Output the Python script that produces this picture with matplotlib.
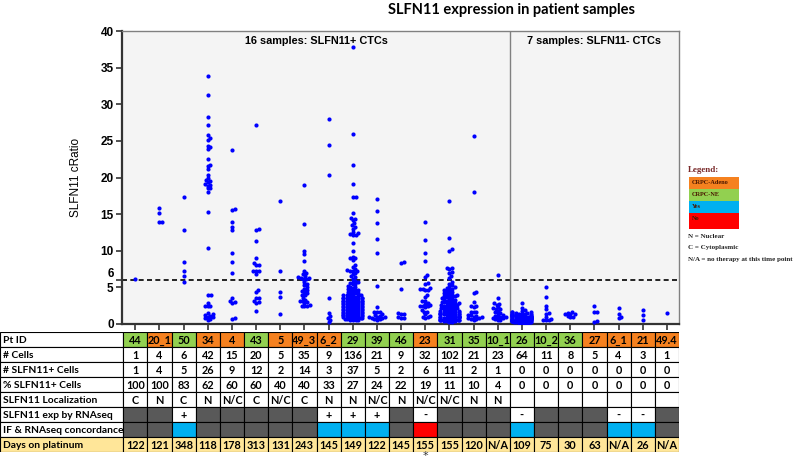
import numpy as np
import matplotlib.pyplot as plt
from matplotlib.patches import Rectangle

# ---- data ----
pt_ids = ["44", "20_1", "50", "34", "4", "43", "5", "49_3", "6_2", "29", "39", "46",
          "23", "31", "35", "10_1", "26", "10_2", "36", "27", "6_1", "21", "49.4"]
pt_type = ["NE", "Adeno", "NE", "Adeno", "Adeno", "NE", "Adeno", "Adeno", "Adeno", "NE", "NE", "NE",
           "Adeno", "NE", "NE", "NE", "NE", "NE", "NE", "Adeno", "Adeno", "Adeno", "Adeno"]
n_cells = [1, 4, 6, 42, 15, 20, 5, 35, 9, 136, 21, 9, 32, 102, 21, 23, 64, 11, 8, 5, 4, 3, 1]
n_pos = [1, 4, 5, 26, 9, 12, 2, 14, 3, 37, 5, 2, 6, 11, 2, 1, 0, 0, 0, 0, 0, 0, 0]
pct_pos = [100, 100, 83, 62, 60, 60, 40, 40, 33, 27, 24, 22, 19, 11, 10, 4, 0, 0, 0, 0, 0, 0, 0]
localization = ["C", "N", "C", "N", "N/C", "C", "N/C", "C", "N", "N", "N/C", "N", "N/C", "N/C", "N", "N",
                "", "", "", "", "", "", ""]
# None = not done (grey cell)
rnaseq = [None, None, "+", None, None, None, None, None, "+", "+", "+", None, "-", None, None, None,
          "-", None, None, None, "-", "-", None]
concordance = [None, None, "Yes", None, None, None, None, None, "Yes", "Yes", "Yes", None, "No", None, None, None,
               "Yes", None, None, None, "Yes", "Yes", None]
days_platinum = ["122", "121", "348", "118", "178", "313", "131", "243", "145", "149", "122", "145",
                 "155", "155", "120", "N/A", "109", "75", "30", "63", "N/A", "26", "N/A"]

cratio = [
    [6.1],
    [15.8, 15.2, 13.9, 13.9],
    [17.3, 12.8, 8.5, 7.3, 6.6, 5.8],
    [33.8, 31.3, 28.3, 27.2, 25.8, 25.4, 25.1, 24.3, 24.1, 23.9, 22.5, 21.7, 21.6, 21.1, 20.4, 19.9, 19.7,
     19.5, 19.4, 19.1, 19.0, 18.9, 18.6, 18.5, 18.0, 15.3, 10.4,
     4.0, 4.0, 2.8, 2.5, 2.5, 2.4, 1.5, 1.3, 1.2, 1.1, 1.0, 0.9, 0.8, 0.7, 0.6],
    [23.8, 15.7, 15.6, 13.9, 13.3, 12.8, 9.7, 8.5, 6.9, 3.5, 3.2, 3.0, 2.9, 0.7, 0.8],
    [27.2, 13.0, 12.8, 11.3, 9.0, 8.3, 8.0, 8.0, 7.3, 7.3, 7.3, 6.8,
     4.7, 4.4, 3.6, 3.6, 3.2, 3.0, 2.9, 1.8],
    [16.8, 7.2, 4.4, 3.7, 1.4],
    [19.0, 13.7, 10.0, 9.5, 8.6, 7.3, 7.0, 6.8, 6.5, 6.4, 6.3, 6.3, 6.2, 6.1,
     5.8, 5.5, 5.3, 5.0, 4.8, 4.6, 4.5, 4.4, 4.2, 4.0, 3.9, 3.6, 3.3, 3.2, 3.1, 3.0, 2.8, 2.6, 2.5, 2.5, 2.4],
    [28.0, 24.5, 20.4, 3.6, 1.5, 1.1, 0.8, 0.6, 0.3],
    [37.8, 26.0, 21.7, 19.1, 17.3, 17.3, 15.1, 14.5, 14.4, 14.2, 13.8, 13.5, 13.3, 13.0, 12.6, 12.4, 12.3,
     12.2, 12.2, 11.0, 10.0, 9.2, 9.0, 9.0, 8.8, 8.0, 7.8, 7.5, 7.4, 7.3, 7.3, 7.2, 7.0, 6.8, 6.5, 6.4, 6.2,
     5.9, 5.8, 5.7, 5.6, 5.5, 5.4, 5.2, 5.1, 5.0, 4.9, 4.8, 4.7, 4.6, 4.5, 4.4, 4.3, 4.2, 4.1, 4.0, 3.9,
     3.8, 3.8, 3.7, 3.7, 3.6, 3.6, 3.5, 3.5, 3.4, 3.4, 3.3, 3.3, 3.2, 3.2, 3.1, 3.1, 3.0, 3.0, 2.9, 2.9,
     2.8, 2.8, 2.7, 2.7, 2.6, 2.6, 2.5, 2.5, 2.4, 2.4, 2.3, 2.3, 2.2, 2.2, 2.1, 2.1, 2.0, 2.0, 1.9, 1.9,
     1.8, 1.8, 1.7, 1.7, 1.6, 1.6, 1.5, 1.5, 1.4, 1.4, 1.3, 1.3, 1.2, 1.2, 1.1, 1.1, 1.0, 1.0, 0.9, 0.9,
     0.8, 0.8, 0.7, 0.7, 0.6, 0.6, 0.5, 0.5, 4.6, 4.2, 3.9, 3.5, 3.1, 2.7, 2.3, 1.9, 1.5, 1.2, 0.9],
    [17.0, 15.4, 13.8, 11.6, 9.7,
     5.2, 2.3, 1.7, 1.7, 1.6, 1.3, 1.2, 1.1, 1.0, 0.9, 0.9, 0.8, 0.8, 0.7, 0.7, 0.6],
    [8.4, 8.3, 4.8, 1.5, 1.4, 1.4, 0.9, 0.8, 0.8],
    [13.9, 11.5, 9.7, 8.6, 6.7, 6.4,
     5.6, 5.5, 4.9, 4.8, 4.8, 4.7, 4.6, 4.0, 3.7, 3.2, 3.2, 2.9, 2.7, 2.6, 2.5, 2.5, 2.4, 2.3, 1.9, 1.7,
     1.6, 1.3, 1.1, 1.0, 0.9, 0.8],
    [16.8, 11.7, 10.2, 10.0, 7.7, 7.6, 7.5, 7.1, 6.9, 6.6, 6.3,
     5.7, 5.5, 5.3, 5.1, 5.0, 4.9, 4.7, 4.6, 4.5, 4.4, 4.3, 4.2, 4.1, 4.0, 3.9, 3.8, 3.8, 3.7, 3.6, 3.5,
     3.5, 3.4, 3.3, 3.2, 3.2, 3.1, 3.0, 3.0, 2.9, 2.8, 2.8, 2.7, 2.6, 2.6, 2.5, 2.5, 2.4, 2.3, 2.3, 2.2,
     2.2, 2.1, 2.0, 2.0, 1.9, 1.9, 1.8, 1.8, 1.7, 1.7, 1.6, 1.6, 1.5, 1.5, 1.5, 1.4, 1.4, 1.3, 1.3, 1.3,
     1.2, 1.2, 1.1, 1.1, 1.1, 1.0, 1.0, 1.0, 0.9, 0.9, 0.9, 0.8, 0.8, 0.8, 0.7, 0.7, 0.7, 0.6, 0.6, 0.6,
     0.5, 0.5, 0.5, 0.4, 0.4, 0.4, 0.3, 0.3, 4.8, 3.9, 2.7],
    [25.6, 18.0, 4.4, 4.3, 3.0, 2.4, 2.4, 2.3, 1.7, 1.7, 1.6, 1.2, 1.2, 1.1, 1.0, 0.9, 0.8, 0.8, 0.7, 0.7, 0.6],
    [6.7, 3.5, 2.8, 2.7, 2.6, 2.3, 2.2, 2.1, 2.0, 1.8, 1.6, 1.5, 1.4, 1.2, 1.1, 1.0, 0.9, 0.9, 0.8, 0.8,
     0.7, 0.6, 0.5],
    [2.8, 2.2, 1.9, 1.8, 1.7, 1.6, 1.6, 1.5, 1.5, 1.4, 1.4, 1.4, 1.3, 1.3, 1.3, 1.2, 1.2, 1.2, 1.2, 1.1,
     1.1, 1.1, 1.1, 1.0, 1.0, 1.0, 1.0, 1.0, 0.9, 0.9, 0.9, 0.9, 0.9, 0.8, 0.8, 0.8, 0.8, 0.8, 0.7, 0.7,
     0.7, 0.7, 0.7, 0.6, 0.6, 0.6, 0.6, 0.6, 0.5, 0.5, 0.5, 0.5, 0.4, 0.4, 0.4, 0.4, 0.3, 0.3, 0.3, 0.3,
     0.2, 0.2, 0.2, 0.2],
    [5.0, 3.7, 2.5, 2.1, 1.5, 1.4, 0.9, 0.7, 0.6, 0.5, 0.5],
    [1.7, 1.5, 1.4, 1.3, 1.3, 1.1, 1.0, 1.0],
    [2.5, 1.7, 1.7, 0.3, 0.4],
    [2.2, 1.3, 1.0, 0.8],
    [1.9, 1.2, 0.6],
    [1.5],
]

type_colors = {"Adeno": "#F5811F", "NE": "#92D050"}
conc_colors = {"Yes": "#00B0F0", "No": "#FF0000"}
grey = "#595959"
yellow = "#FFE699"


def swarm_offsets(ypix, d, wmax):
    # simple beeswarm in pixel space, allows overlap beyond wmax
    order = np.argsort(ypix)
    placed = []
    offs = np.zeros(len(ypix))
    for i in order:
        y = ypix[i]
        cands = [0.0]
        for px, py in placed:
            dy = y - py
            if abs(dy) < d:
                dx = np.sqrt(d * d - dy * dy)
                cands += [px + dx, px - dx]
        cands.sort(key=abs)
        x = cands[-1]
        for c in cands:
            if all((c - px) ** 2 + (y - py) ** 2 >= d * d - 1e-6 for px, py in placed):
                x = c
                break
        x = max(-wmax, min(wmax, x))
        placed.append((x, y))
        offs[i] = x
    return offs


W, H = 800, 462
fig = plt.figure(figsize=(W / 100, H / 100), dpi=100)

ax = fig.add_axes([122 / W, 1 - 324 / H, 557 / W, 293 / H])
ax.set_facecolor("#F4F4F4")
ax.set_xlim(-0.55, 22.5)
ax.set_ylim(0, 40)

ncat = len(pt_ids)
for i, vals in enumerate(cratio):
    vals = np.array(vals)
    ypix = ax.transData.transform(np.column_stack([np.zeros_like(vals), vals]))[:, 1]
    ppu = ax.transData.transform((1, 0))[0] - ax.transData.transform((0, 0))[0]
    offs = swarm_offsets(ypix, 2.8, 9.5) / ppu
    ax.scatter(i + offs, vals, s=9, color="#0000FF", linewidths=0, zorder=3)

ax.axhline(6, color="black", ls=(0, (3, 2)), lw=1.2, zorder=2)
ax.axvline(15.5, color="#808080", lw=1.0, zorder=2)

ax.set_yticks([0, 5, 6, 10, 15, 20, 25, 30, 35, 40])
ax.set_yticklabels(["0", "5", "6", "10", "15", "20", "25", "30", "35", "40"],
                   fontfamily="Liberation Sans", fontweight="bold", fontsize=8.5)
ax.get_yticklabels()[2].set_va("bottom")
ax.set_xticks(range(ncat))
ax.set_xticklabels([])
ax.tick_params(axis="both", direction="out", length=4, width=1.2, color="#333333", pad=2)
for s in ["left", "bottom"]:
    ax.spines[s].set_linewidth(1.6)
    ax.spines[s].set_color("#333333")
for s in ["top", "right"]:
    ax.spines[s].set_linewidth(1.0)
    ax.spines[s].set_color("#808080")
ax.set_ylabel("SLFN11 cRatio", fontfamily="Liberation Sans", fontsize=8.5, labelpad=13)

ax.text(7.5, 38.6, "16 samples: SLFN11+ CTCs", ha="center", va="center",
        fontfamily="Liberation Sans", fontweight="bold", fontsize=7.8)
ax.text(19.0, 38.6, "7 samples: SLFN11- CTCs", ha="center", va="center",
        fontfamily="Liberation Sans", fontweight="bold", fontsize=7.8)

# ---- table below the plot ----
ppu = ax.transData.transform((1, 0))[0] - ax.transData.transform((0, 0))[0]
xl = 22.5 - 679 / ppu
tab = fig.add_axes([0, 1 - 452 / H, 679 / W, 120 / H])
tab.set_xlim(xl, 22.5)
tab.set_ylim(8, 0)
tab.axis("off")

row_labels = ["Pt ID", "# Cells", "# SLFN11+ Cells", "% SLFN11+ Cells", "SLFN11 Localization",
              "SLFN11 exp by RNAseq", "IF & RNAseq concordance", "Days on platinum"]
tfont = dict(fontfamily="Lato", fontweight="bold", fontsize=7.8)

for r, lab in enumerate(row_labels):
    fc = yellow if r == 7 else "white"
    tab.add_patch(Rectangle((xl, r), -0.5 - xl, 1, facecolor=fc, edgecolor="black", lw=0.8))
    tab.text(xl + 0.12, r + 0.55, lab, ha="left", va="center",
             fontfamily="Lato", fontweight="bold", fontsize=7.4)

for i in range(ncat):
    rows = [
        (type_colors[pt_type[i]], pt_ids[i]),
        ("white", str(n_cells[i])),
        ("white", str(n_pos[i])),
        ("white", str(pct_pos[i])),
        ("white", localization[i]),
        (grey if rnaseq[i] is None else "white", rnaseq[i] or ""),
        (grey if concordance[i] is None else conc_colors[concordance[i]], ""),
        (yellow, days_platinum[i]),
    ]
    for r, (fc, txt) in enumerate(rows):
        tab.add_patch(Rectangle((i - 0.5, r), 1, 1, facecolor=fc, edgecolor="black", lw=0.8))
        if txt:
            tab.text(i, r + 0.55, txt, ha="center", va="center", **tfont)

# ---- legend and title (figure pixel coords) ----
ov = fig.add_axes([0, 0, 1, 1], facecolor="none")
ov.set_xlim(0, W)
ov.set_ylim(H, 0)
ov.axis("off")

ov.text(512, 10, "SLFN11 expression in patient samples", ha="center", va="center",
        fontfamily="Lato", fontweight="bold", fontsize=10.5)
ov.text(425, 456, "*", ha="center", va="center", fontsize=8, color="#333333")

ov.text(688, 170, "Legend:", ha="left", va="center", fontfamily="Liberation Serif",
        fontweight="bold", fontsize=6.5, color="#7a2a2a")
leg_items = [("CRPC-Adeno", type_colors["Adeno"]), ("CRPC-NE", type_colors["NE"]),
             ("Yes", conc_colors["Yes"]), ("No", conc_colors["No"])]
leg_h = [12, 12, 12, 16]
y0 = 177
for (lab, col), h in zip(leg_items, leg_h):
    ov.add_patch(Rectangle((689, y0), 50, h, facecolor=col, edgecolor="none"))
    ov.text(692, y0 + 6, lab, ha="left", va="center", fontfamily="Liberation Serif",
            fontweight="bold", fontsize=4.5, color="#4a1500")
    y0 += h
for k, lab in enumerate(["N = Nuclear", "C = Cytoplasmic", "N/A = no therapy at this time point"]):
    ov.text(688, 236 + 11.5 * k, lab, ha="left", va="center", fontfamily="Liberation Serif",
            fontweight="bold", fontsize=5, color="#222222")

fig.savefig("out.png", dpi=100)
